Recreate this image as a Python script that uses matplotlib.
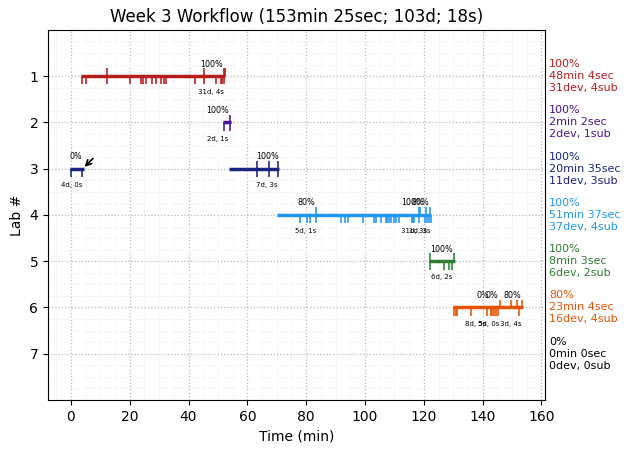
import matplotlib
matplotlib.use('Agg')
import matplotlib.pyplot as plt
from matplotlib.ticker import MultipleLocator

# lab number -> colour
labs = [1, 2, 3, 4, 5, 6, 7]
colors = ['#b71c1c', '#4a148c', '#1a237e', '#2196f3', '#2e7d32', '#e65100', '#000000']

# working segments (start, end) in minutes
segments = {
    1: [(3.4, 52.5)],
    2: [(51.7, 54.6)],
    3: [(-0.2, 4.4), (53.7, 70.8)],
    4: [(70.1, 122.6)],
    5: [(121.6, 130.5)],
    6: [(129.9, 153.9)],
    7: [],
}

# dev events point down, submissions point up
devs = {
    1: [3.85, 5.0, 12.1, 20.2, 23.7, 24.5, 25.5, 27.7, 28.9, 30.5, 31.7, 32.4,
        42.1, 45.2, 49.5, 50.9, 51.5, 52.2],
    2: [52.1, 54.0],
    3: [0.1, 3.8, 63.3, 67.3, 70.4],
    4: [77.9, 80.3, 81.3, 83.2, 91.9, 93.3, 94.1, 99.4, 103.0, 103.7, 105.4,
        107.0, 107.4, 108.0, 109.0, 109.7, 110.6, 111.5, 115.9, 116.3, 116.6,
        118.3, 120.5, 121.2, 121.9, 122.4],
    5: [122.2, 126.8, 128.4, 129.6],
    6: [130.2, 130.8, 131.2, 136.2, 141.6, 142.7, 143.3, 144.0, 144.7, 145.4, 152.3],
    7: [],
}
subs = {
    1: [12.3, 45.3, 51.9, 52.3],
    2: [54.2],
    3: [63.4, 67.4, 70.5],
    4: [83.2, 118.3, 118.7, 120.9, 122.0],
    5: [122.0, 130.3],
    6: [145.8, 149.6, 151.7, 153.3],
    7: [],
}

# per submission labels: lab, x of percent, percent, x of count, count
sub_labels = [
    (1, 47.9, '100%', 47.6, '31d, 4s'),
    (2, 50.0, '100%', 50.0, '2d, 1s'),
    (3, 1.7, '0%', 0.3, '4d, 0s'),
    (3, 66.7, '100%', 66.7, '7d, 3s'),
    (4, 80.0, '80%', 79.7, '5d, 1s'),
    (4, 116.0, '100%', 116.5, '31d, 3s'),
    (4, 119.0, '80%', 118.5, '1d, 3s'),
    (5, 126.1, '100%', 126.0, '6d, 2s'),
    (6, 140.1, '0%', 137.8, '8d, 5s'),
    (6, 143.3, '0%', 142.0, '5d, 0s'),
    (6, 150.0, '80%', 149.4, '3d, 4s'),
]

side_text = [
    '100%\n48min 4sec\n31dev, 4sub',
    '100%\n2min 2sec\n2dev, 1sub',
    '100%\n20min 35sec\n11dev, 3sub',
    '100%\n51min 37sec\n37dev, 4sub',
    '100%\n8min 3sec\n6dev, 2sub',
    '80%\n23min 4sec\n16dev, 4sub',
    '0%\n0min 0sec\n0dev, 0sub',
]

fig, ax = plt.subplots(figsize=(6.3, 4.53), dpi=100)
fig.subplots_adjust(left=0.0762, right=0.865, top=0.934, bottom=0.117)

for lab, color, side in zip(labs, colors, side_text):
    for start, end in segments[lab]:
        ax.plot([start, end], [lab, lab], color=color, lw=2.5, solid_capstyle='butt', zorder=3)
    ax.vlines(devs[lab], lab, lab + 0.18, color=color, lw=1.15, zorder=3)
    ax.vlines(subs[lab], lab - 0.17, lab, color=color, lw=1.15, zorder=3)
    ax.text(1.008, lab, side, color=color, fontsize=8, va='center', ha='left',
            linespacing=1.25, transform=ax.get_yaxis_transform())

for lab, x1, pct, x2, count in sub_labels:
    ax.text(x1, lab - 0.26, pct, fontsize=5.8, ha='center', va='center')
    ax.text(x2, lab + 0.35, count, fontsize=5, ha='center', va='center')

# the first lab 3 submission gets an arrow
ax.annotate('', xy=(4.6, 2.96), xytext=(7.5, 2.78),
            arrowprops=dict(arrowstyle='->', color='black', lw=1.2, shrinkA=0, shrinkB=0))

ax.set_xlim(-7.8, 161.2)
ax.set_ylim(8, 0)
ax.set_yticks(labs)
ax.xaxis.set_major_locator(MultipleLocator(20))
ax.xaxis.set_minor_locator(MultipleLocator(5))
ax.yaxis.set_minor_locator(MultipleLocator(0.25))
ax.tick_params(which='minor', length=0)
ax.grid(which='major', color='#b8b8b8', ls=':', lw=0.9)
ax.grid(which='minor', color='#f5f5f5', ls='-', lw=0.6)
ax.set_axisbelow(True)
ax.set_xlabel('Time (min)')
ax.set_ylabel('Lab #')
ax.set_title('Week 3 Workflow (153min 25sec; 103d; 18s)')

plt.savefig('out.png')
